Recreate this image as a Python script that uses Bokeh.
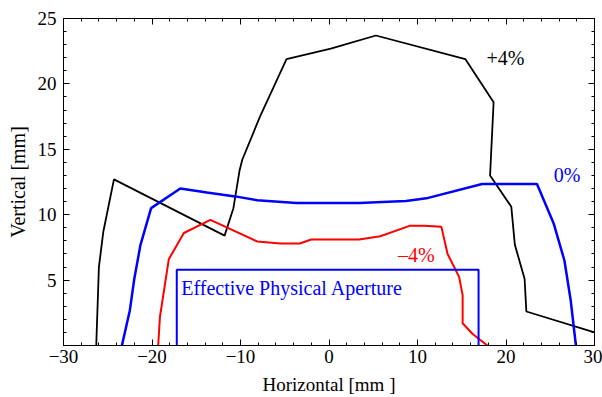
from bokeh.plotting import figure
from bokeh.models import Range1d, LinearAxis, FixedTicker, Label
from bokeh.embed import file_html
from bokeh.resources import INLINE

# +4% momentum deviation boundary (black)
plus4_x = [-26.3, -26.0, -25.5, -24.3, -11.8, -10.8, -10.1, -9.8, -7.8, -4.8, 0.2, 5.3, 15.4, 18.6, 18.2, 20.6, 21.0, 22.1, 22.3, 30.0]
plus4_y = [0.0, 6.0, 8.7, 12.7, 8.4, 10.5, 13.4, 14.2, 17.5, 21.9, 22.7, 23.7, 21.9, 18.6, 13.0, 10.6, 7.7, 5.1, 2.6, 1.0]

# 0% boundary (blue)
zero_x = [-23.4, -22.5, -22.0, -21.3, -20.1, -16.8, -13.8, -10.6, -8.1, -3.7, 3.4, 8.7, 11.0, 17.3, 23.5, 25.4, 26.6, 27.3, 27.9]
zero_y = [0.0, 2.7, 5.1, 7.7, 10.5, 12.0, 11.7, 11.4, 11.1, 10.9, 10.9, 11.05, 11.25, 12.35, 12.35, 9.3, 6.5, 3.5, 0.0]

# -4% boundary (red)
minus4_x = [-19.3, -19.1, -18.1, -16.4, -13.4, -8.1, -5.5, -3.3, -2.0, 3.4, 5.8, 9.1, 10.8, 12.7, 13.4, 14.7, 15.1, 15.1, 16.2, 17.9]
minus4_y = [0.0, 2.2, 6.6, 8.6, 9.6, 7.95, 7.8, 7.8, 8.1, 8.1, 8.35, 9.15, 9.15, 9.07, 7.0, 5.25, 3.85, 1.7, 0.9, 0.0]

# Effective physical aperture (half-box)
aperture_x = [-17.2, 16.9]
aperture_h = 5.8

x_ticks = [-30, -20, -10, 0, 10, 20, 30]
x_minor = list(range(-30, 31, 2))
y_ticks = [5, 10, 15, 20, 25]
y_minor = list(range(0, 26, 1))

FONT = "Liberation Serif"

p = figure(width=602, height=397, x_range=Range1d(-30, 30), y_range=Range1d(0, 25),
           output_backend="svg", toolbar_location=None,
           min_border_left=63, min_border_right=8, min_border_top=18, min_border_bottom=52,
           x_axis_location=None, y_axis_location=None)
p.xgrid.visible = False
p.ygrid.visible = False
p.outline_line_color = "black"
p.outline_line_width = 1
p.background_fill_color = "white"
p.border_fill_color = "white"

def style_axis(ax, show_labels):
    ax.axis_line_color = "black"
    ax.major_tick_in = 6
    ax.major_tick_out = 0
    ax.minor_tick_in = 3
    ax.minor_tick_out = 0
    ax.major_tick_line_color = "black"
    ax.minor_tick_line_color = "black"
    ax.major_label_text_font = FONT
    ax.axis_label_text_font = FONT
    ax.axis_label_text_font_style = "normal"
    ax.major_label_text_color = "black"
    ax.axis_label_text_color = "black"
    ax.major_label_text_font_size = "19px"
    ax.axis_label_text_font_size = "19px"
    if not show_labels:
        ax.major_label_standoff = 0

xt = FixedTicker(ticks=x_ticks, minor_ticks=x_minor)
yt = FixedTicker(ticks=y_ticks, minor_ticks=y_minor)

xb = LinearAxis(ticker=xt, axis_label="Horizontal [mm ]")
style_axis(xb, True)
xb.major_label_standoff = 4
xb.axis_label_standoff = 8
xb.major_label_overrides = {t: (("\u2212" + str(-t)) if t < 0 else str(t)) for t in x_ticks}
p.add_layout(xb, "below")

yl = LinearAxis(ticker=yt, axis_label="Vertical [mm]")
style_axis(yl, True)
yl.axis_label_text_font_size = "20px"
yl.major_label_standoff = 7
yl.axis_label_standoff = 6
p.add_layout(yl, "left")

xa = LinearAxis(ticker=xt)
style_axis(xa, False)
xa.major_label_overrides = {t: "" for t in x_ticks}
p.add_layout(xa, "above")

yr = LinearAxis(ticker=yt)
style_axis(yr, False)
yr.major_label_overrides = {t: "" for t in y_ticks}
p.add_layout(yr, "right")

p.line(plus4_x, plus4_y, line_color="black", line_width=1.8)
p.line(zero_x, zero_y, line_color="#0000ff", line_width=2.5)
p.line(minus4_x, minus4_y, line_color="#ff0000", line_width=2)
p.line([aperture_x[0], aperture_x[0], aperture_x[1], aperture_x[1]],
       [0, aperture_h, aperture_h, 0], line_color="#0000ff", line_width=2)

def add_label(x, y, text, color, size="19px"):
    p.add_layout(Label(x=x, y=y, text=text, text_color=color, text_font=FONT,
                       text_font_size=size, text_align="left", text_baseline="middle"))

add_label(17.8, 21.95, "+4%", "black", "20px")
add_label(25.4, 13.0, "0%", "#0000ff", "20px")
add_label(7.8, 6.9, "\u20134%", "#ff0000", "20px")
add_label(-16.7, 4.4, "Effective Physical Aperture", "#0000ff", "20px")

open("out.html", "w").write(file_html(p, INLINE))
